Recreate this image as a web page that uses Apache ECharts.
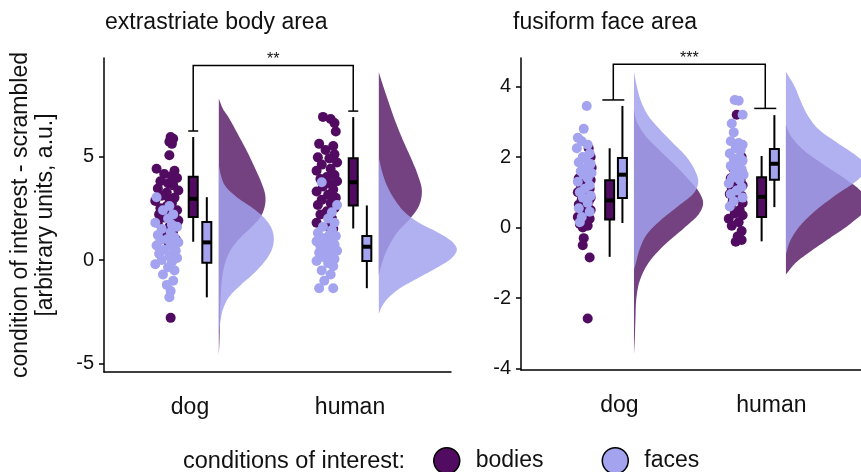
<!DOCTYPE html>
<html>
<head>
<meta charset="utf-8">
<script src="https://cdn.jsdelivr.net/npm/echarts@6/dist/echarts.min.js"></script>
<style>
  html, body { margin: 0; background: #fff; }
  #main { width: 861px; height: 472px; }
</style>
</head>
<body>
<div id="main"></div>
<script>
const categories = ['dog', 'human'];
const conditions = ['bodies', 'faces'];
const panelTitles = ['extrastriate body area', 'fusiform face area'];
const yTicks = [[-5, 0, 5], [-4, -2, 0, 2, 4]];

// jittered raw points: [value, jitter in -1..1]
const ebaDogBodies = [[5.93,0.3],[5.85,0.5],[5.7,0.2],[5.6,0.4],[5.05,0.2],[4.4,-0.8],[4.3,0.6],[4.15,-0.2],[4.05,0.4],[3.95,0.8],[3.8,-0.5],[3.7,0.1],[3.6,0.5],[3.45,-0.7],[3.35,0.9],[3.25,0.0],[3.1,-0.4],[3.0,0.6],[2.95,0.2],[2.85,-0.9],[2.75,0.4],[2.6,0.0],[2.5,-0.5],[2.4,0.8],[2.3,0.3],[2.2,-0.6],[2.1,0.6],[2.05,-0.2],[1.9,0.9],[1.8,-0.7],[1.6,0.2],[1.4,0.5],[1.2,-0.3],[1.0,0.7],[0.88,0.1],[-2.79,0.3]];
const ebaDogFaces = [[3.03,-0.8],[2.6,0.2],[2.4,-0.3],[2.2,0.5],[2.0,0.1],[1.8,-0.9],[1.7,0.4],[1.6,0.8],[1.5,-0.4],[1.35,0.3],[1.2,-0.7],[1.1,0.6],[1.0,0.0],[0.95,-0.5],[0.85,0.9],[0.8,0.3],[0.7,-0.8],[0.6,0.5],[0.5,-0.2],[0.45,0.7],[0.3,-0.6],[0.2,0.2],[0.1,0.8],[0.0,-0.4],[-0.1,0.4],[-0.2,-0.9],[-0.35,0.1],[-0.5,0.6],[-0.7,-0.3],[-1.0,0.5],[-1.2,0.0],[-1.5,0.3],[-1.8,0.2]];
const ebaHumanBodies = [[6.9,-0.3],[6.8,0.3],[6.6,0.6],[6.2,0.7],[5.6,-0.6],[5.5,0.5],[5.3,-0.1],[5.1,0.6],[4.95,-0.7],[4.9,0.2],[4.7,0.8],[4.6,-0.4],[4.4,0.3],[4.3,-0.8],[4.1,0.6],[4.0,0.0],[3.9,-0.5],[3.8,0.8],[3.7,0.2],[3.55,-0.3],[3.4,0.5],[3.3,-0.8],[3.15,0.1],[3.0,0.7],[2.9,-0.4],[2.75,0.3],[2.65,-0.7],[2.5,0.6],[2.35,0.0],[2.2,-0.5],[2.0,0.4],[1.8,-0.8],[1.6,0.2],[1.52,0.5]];
const ebaHumanFaces = [[3.75,-0.4],[2.65,0.8],[2.3,0.4],[2.0,0.1],[1.8,0.6],[1.6,-0.3],[1.45,0.4],[1.3,-0.7],[1.2,0.2],[1.15,0.7],[1.05,-0.2],[0.95,0.4],[0.9,-0.8],[0.8,0.0],[0.75,0.6],[0.65,-0.5],[0.6,0.3],[0.5,-0.1],[0.45,0.8],[0.35,-0.6],[0.25,0.3],[0.15,-0.3],[0.05,0.6],[-0.05,-0.8],[-0.15,0.1],[-0.3,0.5],[-0.5,-0.4],[-0.7,0.3],[-1.0,-0.2],[-1.36,-0.6],[-1.36,0.5]];
const ffaDogBodies = [[2.25,0.4],[2.0,0.6],[1.8,0.5],[1.7,0.7],[1.6,-0.2],[1.45,0.3],[1.4,-0.6],[1.35,0.6],[1.3,0.1],[1.2,-0.4],[1.1,0.5],[1.0,-0.7],[0.95,0.2],[0.85,0.6],[0.8,-0.3],[0.75,0.4],[0.65,-0.6],[0.6,0.1],[0.5,0.6],[0.45,-0.4],[0.35,0.3],[0.3,-0.7],[0.25,0.5],[0.2,0.0],[0.1,-0.5],[0.05,0.3],[0.0,-0.2],[-0.3,-0.1],[-0.5,-0.2],[-0.85,0.5],[-2.58,0.3]];
const ffaDogFaces = [[3.45,0.2],[2.8,-0.1],[2.55,-0.7],[2.45,-0.3],[2.35,0.3],[2.25,-0.8],[2.1,0.5],[2.0,-0.2],[1.95,0.1],[1.85,-0.6],[1.8,0.6],[1.7,0.2],[1.6,-0.4],[1.55,0.7],[1.5,-0.1],[1.4,0.3],[1.3,-0.7],[1.2,0.5],[1.1,0.0],[1.0,-0.5],[0.9,0.6],[0.85,-0.2],[0.7,0.3],[0.55,-0.6],[0.45,0.5],[0.3,-0.3],[0.15,-0.5]];
const ffaHumanBodies = [[3.2,0.0],[2.0,0.5],[1.9,0.3],[1.7,-0.4],[1.6,0.5],[1.5,0.0],[1.4,-0.6],[1.35,0.4],[1.25,-0.2],[1.2,0.6],[1.1,-0.5],[1.05,0.2],[0.95,-0.7],[0.9,0.5],[0.85,0.0],[0.75,-0.4],[0.7,0.6],[0.6,-0.6],[0.5,0.3],[0.4,-0.2],[0.35,0.6],[0.25,-0.8],[0.15,0.2],[0.05,-0.5],[-0.1,0.5],[-0.25,0.1],[-0.35,0.5],[-0.4,-0.1]];
const ffaHumanFaces = [[3.62,-0.2],[3.6,0.2],[3.2,0.6],[2.95,-0.5],[2.7,-0.3],[2.45,-0.6],[2.4,0.2],[2.35,0.6],[2.25,-0.1],[2.2,0.4],[2.1,-0.7],[2.0,0.3],[1.95,-0.3],[1.9,0.6],[1.8,0.0],[1.75,-0.6],[1.65,0.5],[1.55,-0.2],[1.5,0.7],[1.4,-0.5],[1.35,0.3],[1.25,-0.8],[1.15,0.5],[1.05,0.0],[0.95,-0.6],[0.85,0.6],[0.75,-0.3],[0.6,-0.7]];

// box summaries per category: [lower whisker, q1, median, q3, upper whisker]
const ebaBoxBodies = [[0.88, 2.07, 2.95, 4.02, 5.93], [1.52, 2.63, 3.75, 4.91, 6.89]];
const ebaBoxFaces = [[-1.80, -0.13, 0.85, 1.83, 3.03], [-1.36, -0.05, 0.64, 1.16, 2.63]];
const ffaBoxBodies = [[-0.83, 0.23, 0.77, 1.34, 2.25], [-0.39, 0.30, 0.87, 1.43, 2.03]];
const ffaBoxFaces = [[0.13, 0.84, 1.50, 1.97, 3.45], [0.58, 1.36, 1.81, 2.23, 3.19]];

// half-violin density profiles: [value, density], top to bottom
const ebaDensDogBodies = [[7.78,0],[7.3,4],[6.86,10],[6.07,19],[5.26,28],[4.45,36],[3.68,43],[3.1,46.5],[2.6,46],[2.1,42],[1.6,33],[1.1,22],[0.5,12],[-0.2,6],[-1.0,3],[-2.0,1.6],[-3.0,1.1],[-4.0,0.6],[-4.6,0]];
const ebaDensDogFaces = [[4.6,0],[4.1,2],[3.6,6],[3.03,18],[2.5,34],[2.0,46],[1.5,53],[1.0,55],[0.5,53],[0.0,47],[-0.6,36],[-1.2,22],[-1.8,10],[-2.4,4],[-3.0,1.5],[-3.6,0]];
const ebaDensHumanBodies = [[9.05,0],[8.44,4],[7.72,9],[6.75,16],[5.79,24],[4.82,33],[4.10,39],[3.38,43],[2.65,40.5],[1.98,31],[1.30,18],[0.48,8],[-0.1,3.5],[-0.72,0]];
const ebaDensHumanFaces = [[4.94,0],[4.3,3],[3.6,8],[2.9,16],[2.3,26],[1.8,40],[1.3,60],[0.85,74],[0.5,78],[0.1,73],[-0.4,57],[-0.9,38],[-1.4,20],[-1.9,8],[-2.3,2.5],[-2.6,0]];
const ffaDensDogBodies = [[3.33,0],[3.0,3],[2.6,12],[2.2,26],[1.8,41],[1.4,55],[1.0,67],[0.7,71],[0.4,67],[0.0,52],[-0.5,31],[-1.0,15],[-1.5,6],[-2.0,2.5],[-2.6,1.5],[-3.2,0.8],[-3.6,0]];
const ffaDensDogFaces = [[4.42,0],[4.0,3],[3.6,7],[3.2,14],[2.8,26],[2.4,40],[2.0,54],[1.6,63],[1.3,66],[1.0,62],[0.6,45],[0.2,27],[-0.2,13],[-0.6,6],[-1.0,2],[-1.2,0]];
const ffaDensHumanBodies = [[2.9,0],[2.6,5],[2.2,18],[1.8,38],[1.36,62],[1.0,78],[0.6,84],[0.15,68],[-0.3,45],[-0.7,24],[-1.0,10],[-1.33,0]];
const ffaDensHumanFaces = [[4.42,0],[4.0,9],[3.6,15],[3.2,22],[2.8,33],[2.4,53],[2.0,74],[1.7,84],[1.36,74],[0.9,50],[0.4,27],[0.0,13],[-0.4,4],[-0.76,0]];

// significance brackets
const sigLabels = ['**', '***'];
const sigTop = [9.38, 4.63];
const sigEnds = [[6.22, 7.18], [3.62, 3.38]];

const colBodies = '#510c61';
const colFaces = '#a3a3ef';
const font = 'Liberation Sans';

const panels = [
  { grid: { left: 104, top: 58, width: 347, height: 314 }, xMin: 0.4625, xMax: 2.631, yMin: -5.4, yMax: 9.74,
    ptOff: -0.145, jit: 0.08, boxOff: [0.02, 0.105], densOff: 0.18, densScale: 1 / 160, sigOff: 0.02, capW: 10,
    pts: [[ebaDogBodies, ebaHumanBodies], [ebaDogFaces, ebaHumanFaces]],
    box: [ebaBoxBodies, ebaBoxFaces],
    dens: [[ebaDensDogBodies, ebaDensHumanBodies], [ebaDensDogFaces, ebaDensHumanFaces]] },
  { grid: { left: 521, top: 58, width: 349, height: 312 }, xMin: 0.3526, xMax: 2.59, yMin: -4.04, yMax: 4.81,
    ptOff: -0.228, jit: 0.065, boxOff: [-0.064, 0.02], densOff: 0.096, densScale: 1 / 156, sigOff: -0.04, capW: 22,
    pts: [[ffaDogBodies, ffaHumanBodies], [ffaDogFaces, ffaHumanFaces]],
    box: [ffaBoxBodies, ffaBoxFaces],
    dens: [[ffaDensDogBodies, ffaDensHumanBodies], [ffaDensDogFaces, ffaDensHumanFaces]] }
];

// centripetal catmull-rom through the outline points
function smoothPts(pts) {
  const out = [];
  const dist = (a, b) => Math.max(1e-3, Math.pow(Math.hypot(a[0] - b[0], a[1] - b[1]), 0.5));
  for (let i = 0; i < pts.length - 1; i++) {
    const p1 = pts[i], p2 = pts[i + 1];
    const p0 = i > 0 ? pts[i - 1] : [2 * p1[0] - p2[0], 2 * p1[1] - p2[1]];
    const p3 = i + 2 < pts.length ? pts[i + 2] : [2 * p2[0] - p1[0], 2 * p2[1] - p1[1]];
    const t0 = 0, t1 = dist(p0, p1), t2 = t1 + dist(p1, p2), t3 = t2 + dist(p2, p3);
    for (let k = 0; k < 12; k++) {
      const t = t1 + (t2 - t1) * k / 12;
      const pt = [0, 1].map(d => {
        const a1 = (t1 - t) / (t1 - t0) * p0[d] + (t - t0) / (t1 - t0) * p1[d];
        const a2 = (t2 - t) / (t2 - t1) * p1[d] + (t - t1) / (t2 - t1) * p2[d];
        const a3 = (t3 - t) / (t3 - t2) * p2[d] + (t - t2) / (t3 - t2) * p3[d];
        const b1 = (t2 - t) / (t2 - t0) * a1 + (t - t0) / (t2 - t0) * a2;
        const b2 = (t3 - t) / (t3 - t1) * a2 + (t - t1) / (t3 - t1) * a3;
        return (t2 - t) / (t2 - t1) * b1 + (t - t1) / (t2 - t1) * b2;
      });
      out.push(pt);
    }
  }
  out.push(pts[pts.length - 1]);
  return out;
}

const axisLine = { show: true, onZero: false, lineStyle: { color: '#000', width: 1.5 } };
const grids = [], xAxes = [], yAxes = [], series = [];

panels.forEach((p, gi) => {
  grids.push(p.grid);
  xAxes.push({
    type: 'value', gridIndex: gi, min: p.xMin, max: p.xMax,
    axisLine, axisTick: { show: false }, splitLine: { show: false },
    axisLabel: { customValues: [1, 2], formatter: v => categories[Math.round(v) - 1],
      fontSize: 23, color: '#111', margin: 24, fontFamily: font }
  });
  yAxes.push({
    type: 'value', gridIndex: gi, min: p.yMin, max: p.yMax,
    axisLine, splitLine: { show: false },
    axisTick: { show: true, customValues: yTicks[gi], length: 5, lineStyle: { color: '#000', width: 1.5 } },
    axisLabel: { customValues: yTicks[gi], fontSize: 20, color: '#111', margin: 10, fontFamily: font },
    name: gi === 0 ? 'condition of interest - scrambled\n[arbitrary units, a.u.]' : '',
    nameLocation: 'middle', nameRotate: 90, nameGap: 46,
    nameTextStyle: { fontSize: 23, lineHeight: 25, color: '#111', fontFamily: font }
  });

  // half-violin densities: bodies first, faces drawn over them
  conditions.forEach((cond, ci) => {
    p.dens[ci].forEach((dens, cat) => {
      series.push({
        type: 'custom', name: cond + ' density', xAxisIndex: gi, yAxisIndex: gi, z: 1 + ci, silent: true,
        data: [[cat + 1]],
        renderItem: (params, api) => {
          const base = api.value(0) + p.densOff;
          const curve = dens.map(([v, d]) => api.coord([base + d * p.densScale, v]));
          return {
            type: 'polygon',
            shape: { points: smoothPts(curve) },
            style: { fill: ci === 0 ? 'rgba(79,15,95,0.79)' : 'rgba(162,162,238,0.84)' }
          };
        }
      });
    });
  });

  // jittered points
  conditions.forEach((cond, ci) => {
    const data = [];
    p.pts[ci].forEach((arr, cat) => arr.forEach(([v, j]) => data.push([cat + 1 + p.ptOff + j * p.jit, v])));
    series.push({
      type: 'scatter', name: cond, xAxisIndex: gi, yAxisIndex: gi, z: 3 + ci, silent: true,
      symbolSize: 10, itemStyle: { color: ci === 0 ? colBodies : colFaces, opacity: 1 },
      data
    });
  });

  // boxplots
  conditions.forEach((cond, ci) => {
    series.push({
      type: 'custom', name: cond + ' box', xAxisIndex: gi, yAxisIndex: gi, z: 6, silent: true,
      data: p.box[ci].map((s, cat) => [cat + 1 + p.boxOff[ci]].concat(s)),
      encode: { x: 0, y: [1, 2, 3, 4, 5] },
      renderItem: (params, api) => {
        const x = api.value(0);
        const c = k => api.coord([x, api.value(k)]);
        const mn = c(1), q1 = c(2), md = c(3), q3 = c(4), mx = c(5);
        const hw = 4.5;
        const stroke = { stroke: '#000', lineWidth: 2 };
        return {
          type: 'group', children: [
            { type: 'line', shape: { x1: mn[0], y1: mn[1], x2: q1[0], y2: q1[1] }, style: stroke },
            { type: 'line', shape: { x1: q3[0], y1: q3[1], x2: mx[0], y2: mx[1] }, style: stroke },
            { type: 'rect', shape: { x: q3[0] - hw, y: q3[1], width: hw * 2, height: q1[1] - q3[1] },
              style: { fill: ci === 0 ? colBodies : colFaces, stroke: '#000', lineWidth: 2 } },
            { type: 'line', shape: { x1: md[0] - hw, y1: md[1], x2: md[0] + hw, y2: md[1] },
              style: { stroke: '#000', lineWidth: 4 } }
          ]
        };
      }
    });
  });

  // significance bracket
  series.push({
    type: 'custom', name: 'sig', xAxisIndex: gi, yAxisIndex: gi, z: 7, silent: true,
    data: [[1 + p.sigOff, 2 + p.sigOff, sigTop[gi], sigEnds[gi][0], sigEnds[gi][1]]],
    renderItem: (params, api) => {
      const a = api.coord([api.value(0), api.value(3)]);
      const at = api.coord([api.value(0), api.value(2)]);
      const bt = api.coord([api.value(1), api.value(2)]);
      const b = api.coord([api.value(1), api.value(4)]);
      const st = { stroke: '#000', lineWidth: 1.5, fill: null };
      const h = p.capW / 2;
      return {
        type: 'group', children: [
          { type: 'polyline', shape: { points: [a, at, bt, b] }, style: st },
          { type: 'line', shape: { x1: a[0] - h, y1: a[1], x2: a[0] + h, y2: a[1] }, style: st },
          { type: 'line', shape: { x1: b[0] - h, y1: b[1], x2: b[0] + h, y2: b[1] }, style: st },
          { type: 'text', x: (at[0] + bt[0]) / 2, y: at[1] + 2,
            style: { text: sigLabels[gi], fontSize: 16, fill: '#111', align: 'center', verticalAlign: 'bottom',
              fontFamily: font } }
        ]
      };
    }
  });
});

const chart = echarts.init(document.getElementById('main'));
chart.setOption({
  animation: false,
  backgroundColor: '#fff',
  title: panelTitles.map((t, i) => ({
    text: t, left: i === 0 ? 100 : 508, top: 6,
    textStyle: { fontSize: 23, fontWeight: 'normal', color: '#111', fontFamily: font }
  })),
  grid: grids, xAxis: xAxes, yAxis: yAxes,
  legend: {
    data: conditions, left: 433, top: 447, padding: 0, icon: 'circle', itemWidth: 26, itemHeight: 28, itemGap: 58,
    itemStyle: { borderColor: '#000', borderWidth: 1.5 },
    textStyle: { fontSize: 23, color: '#111', padding: [0, 0, 0, 11], fontFamily: font },
    selectedMode: false
  },
  graphic: [{
    type: 'text', left: 183, top: 450,
    style: { text: 'conditions of interest:', fontSize: 23.5, fill: '#111', fontFamily: font }
  }],
  series
});
</script>
</body>
</html>
